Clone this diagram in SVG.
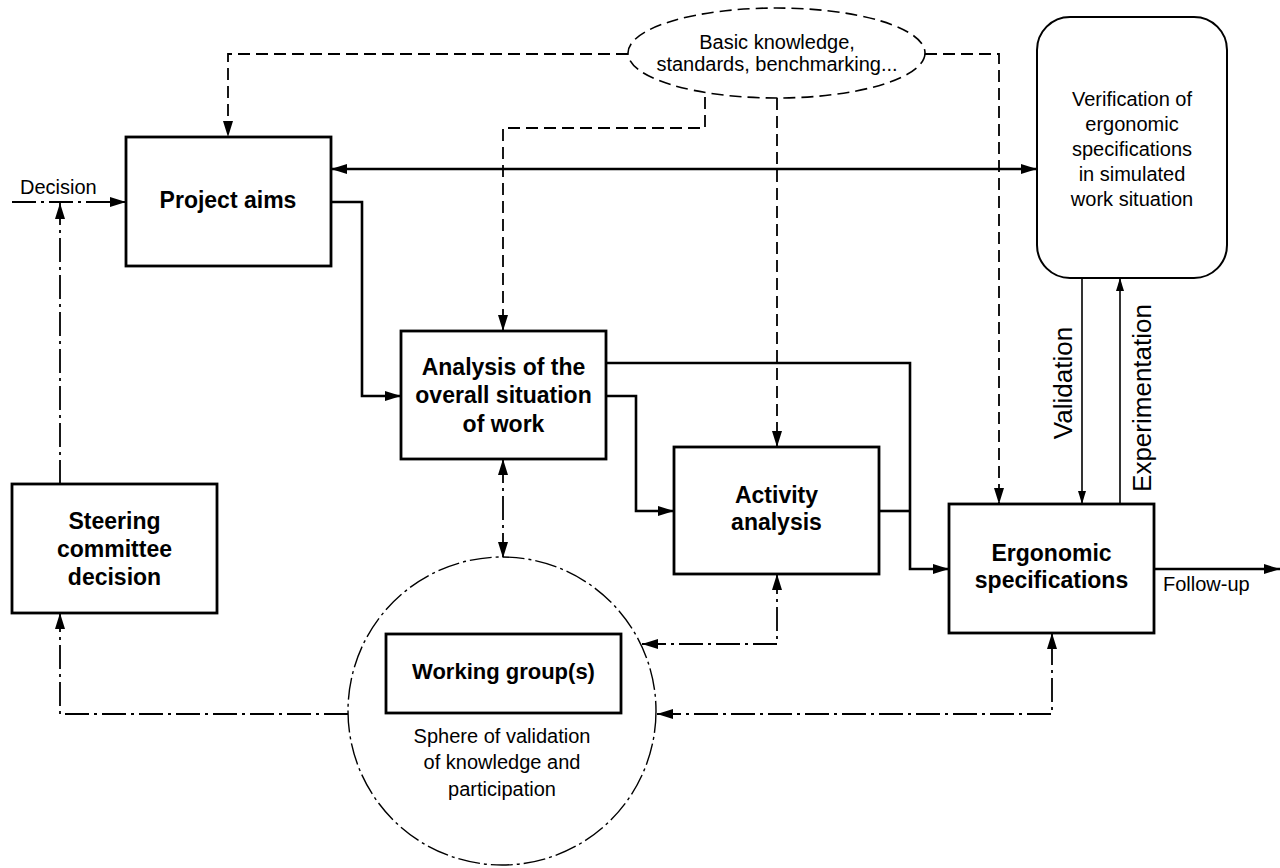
<svg xmlns="http://www.w3.org/2000/svg" width="1280" height="868" viewBox="0 0 1280 868">
<defs>
<marker id="ah" markerUnits="userSpaceOnUse" markerWidth="16" markerHeight="10" refX="16" refY="5" orient="auto-start-reverse" viewBox="0 0 16 10"><path d="M0,0 L16,5 L0,10 z" fill="#000"/></marker>
<marker id="ahs" markerUnits="userSpaceOnUse" markerWidth="13" markerHeight="8" refX="13" refY="4" orient="auto-start-reverse" viewBox="0 0 13 8"><path d="M0,0 L13,4 L0,8 z" fill="#000"/></marker>
<style>
.box{fill:#fff;stroke:#000;stroke-width:2.8}
.t{font-family:"Liberation Sans",Arial,sans-serif;font-size:20px;fill:#000;text-anchor:middle}
.b{font-family:"Liberation Sans",Arial,sans-serif;font-size:23px;font-weight:bold;fill:#000;text-anchor:middle}
.solid{fill:none;stroke:#000;stroke-width:2.6}
.thin{fill:none;stroke:#000;stroke-width:1.6}
.dash{fill:none;stroke:#000;stroke-width:1.8;stroke-dasharray:12,6}
.dd{fill:none;stroke:#000;stroke-width:1.8;stroke-dasharray:24,5,3,5}
</style>
</defs>
<rect width="1280" height="868" fill="#fff"/>

<g id="connectors">
<path class="dd" d="M12,202 H126" marker-end="url(#ah)"/>
<path class="dd" d="M60,484 V203" marker-end="url(#ah)"/>
<path class="dash" d="M628,54 H228 V137" marker-end="url(#ah)"/>
<path class="dash" d="M925,54 H999 V504" marker-end="url(#ah)"/>
<path class="dash" d="M705,97 V128 H503 V331" marker-end="url(#ah)"/>
<path class="dash" d="M777,98 V447" marker-end="url(#ah)"/>
<path class="solid" d="M331,169 H1037" marker-start="url(#ah)" marker-end="url(#ah)"/>
<path class="solid" d="M331,202 H362 V396 H401" marker-end="url(#ah)"/>
<path class="solid" d="M606,363 H910 V569 H949" marker-end="url(#ah)"/>
<path class="solid" d="M606,396 H636 V511 H674" marker-end="url(#ah)"/>
<path class="solid" d="M879,511 H910"/>
<path class="thin" d="M1082,278 V504" marker-end="url(#ahs)"/>
<path class="thin" d="M1120,504 V278" marker-end="url(#ahs)"/>
<path class="solid" d="M1154,569 H1280" marker-end="url(#ah)"/>
<path class="dd" d="M503,459 V558" marker-start="url(#ah)" marker-end="url(#ah)"/>
<path class="dd" d="M642,644 H777 V574" marker-start="url(#ah)" marker-end="url(#ah)"/>
<path class="dd" d="M657,714 H1052 V633" marker-start="url(#ah)" marker-end="url(#ah)"/>
<path class="dd" d="M348,714 H60 V613" marker-end="url(#ah)"/>
</g>

<g id="decision-label"><text class="t" x="20" y="194" style="text-anchor:start">Decision</text></g>

<g id="knowledge">
<ellipse cx="776.5" cy="53" rx="148.5" ry="45" fill="#fff" stroke="#000" stroke-width="1.6" stroke-dasharray="12,6"/>
<text class="t" x="777" y="49">Basic knowledge,</text>
<text class="t" x="777" y="71">standards, benchmarking...</text>
</g>

<g id="project-aims">
<rect class="box" x="126" y="137" width="205" height="129"/>
<text class="b" x="228" y="208">Project aims</text>
</g>

<g id="verification">
<rect x="1037" y="17" width="190" height="261" rx="33" ry="33" fill="#fff" stroke="#000" stroke-width="2"/>
<text class="t" x="1132" y="106">Verification of</text>
<text class="t" x="1132" y="131">ergonomic</text>
<text class="t" x="1132" y="156">specifications</text>
<text class="t" x="1132" y="181">in simulated</text>
<text class="t" x="1132" y="206">work situation</text>
</g>

<g id="analysis">
<rect class="box" x="401" y="331" width="205" height="128"/>
<text class="b" x="503.5" y="375">Analysis of the</text>
<text class="b" x="503.5" y="403">overall situation</text>
<text class="b" x="503.5" y="432">of work</text>
</g>

<g id="activity">
<rect class="box" x="674" y="447" width="205" height="127"/>
<text class="b" x="776.5" y="503">Activity</text>
<text class="b" x="776.5" y="530">analysis</text>
</g>

<g id="ergonomic">
<rect class="box" x="949" y="504" width="205" height="129"/>
<text class="b" x="1051.5" y="561">Ergonomic</text>
<text class="b" x="1051.5" y="588">specifications</text>
</g>

<g id="steering">
<rect class="box" x="12" y="484" width="205" height="129"/>
<text class="b" x="114.5" y="529">Steering</text>
<text class="b" x="114.5" y="557">committee</text>
<text class="b" x="114.5" y="585">decision</text>
</g>

<g id="sphere">
<circle cx="502" cy="711" r="154" fill="none" stroke="#000" stroke-width="1.4" stroke-dasharray="22,4,3,4"/>
<rect class="box" x="386" y="634" width="235" height="79"/>
<text class="b" x="503.5" y="679" style="font-size:22px">Working group(s)</text>
<text class="t" x="502" y="743">Sphere of validation</text>
<text class="t" x="502" y="769">of knowledge and</text>
<text class="t" x="502" y="796">participation</text>
</g>

<g id="labels">
<text class="t" transform="translate(1072,383) rotate(-90)" style="font-size:26px">Validation</text>
<text class="t" transform="translate(1151,398) rotate(-90)" style="font-size:26px">Experimentation</text>
<text class="t" x="1163" y="591" style="text-anchor:start">Follow-up</text>
</g>
</svg>
